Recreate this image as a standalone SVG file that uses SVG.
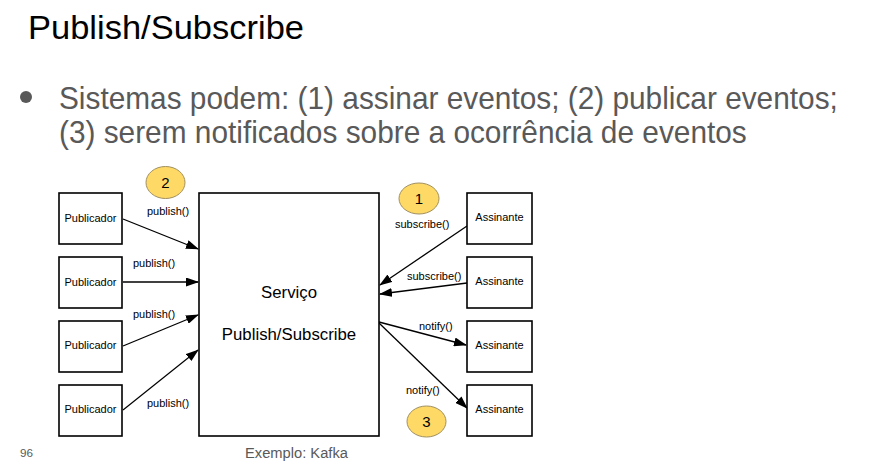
<svg xmlns="http://www.w3.org/2000/svg" width="871" height="465" viewBox="0 0 871 465">
<style>
.box{fill:#fff;stroke:#000;stroke-width:1.6}
.lbl{font-family:"Liberation Sans",Arial,sans-serif;font-size:11px;fill:#000}
.big{font-family:"Liberation Sans",Arial,sans-serif;font-size:16.8px;fill:#000}
.cn{font-family:"Liberation Sans",Arial,sans-serif;font-size:15px;fill:#000}
.gray{font-family:"Liberation Sans",Arial,sans-serif;fill:#595959}
.badge{fill:#ffd966;stroke:#a09060;stroke-width:1}
.conn{stroke:#000;stroke-width:1.3;fill:none;marker-end:url(#ah)}
</style>
<defs>
<marker id="ah" markerWidth="13" markerHeight="9" refX="12" refY="4.5" orient="auto" markerUnits="userSpaceOnUse">
<path d="M0,0 L13,4.5 L0,9 Z" fill="#000"/>
</marker>
</defs>
<rect width="871" height="465" fill="#fff"/>
<text x="28" y="38.5" font-family="'Liberation Sans',Arial,sans-serif" font-size="32.5" fill="#000" textLength="276" lengthAdjust="spacingAndGlyphs">Publish/Subscribe</text>
<circle cx="26" cy="97" r="6" fill="#595959"/>
<g transform="scale(0.932,1)">
<text class="gray" x="63.3" y="109" font-size="32">Sistemas podem: (1) assinar eventos; (2) publicar eventos;</text>
<text class="gray" x="63.3" y="143" font-size="32">(3) serem notificados sobre a ocorrência de eventos</text>
</g>

<g id="connectors">
<line class="conn" x1="123" y1="219" x2="198" y2="249"/>
<line class="conn" x1="123" y1="282" x2="198" y2="282"/>
<line class="conn" x1="123" y1="346" x2="198" y2="315"/>
<line class="conn" x1="123" y1="410" x2="198" y2="350"/>
<line class="conn" x1="467" y1="226" x2="380" y2="285"/>
<line class="conn" x1="467" y1="283" x2="380" y2="294"/>
<line class="conn" x1="379" y1="322" x2="466" y2="345"/>
<line class="conn" x1="379" y1="323" x2="467" y2="408"/>
<text class="lbl" x="147" y="215">publish()</text>
<text class="lbl" x="133" y="267">publish()</text>
<text class="lbl" x="133" y="318">publish()</text>
<text class="lbl" x="147" y="407">publish()</text>
<text class="lbl" x="395" y="228">subscribe()</text>
<text class="lbl" x="407" y="280">subscribe()</text>
<text class="lbl" x="419" y="330">notify()</text>
<text class="lbl" x="406" y="394">notify()</text>
</g>

<g id="pub1"><rect class="box" x="59" y="193" width="63" height="51"/><text class="lbl" x="90.5" y="222" text-anchor="middle">Publicador</text></g>
<g id="pub2"><rect class="box" x="59" y="257" width="63" height="51"/><text class="lbl" x="90.5" y="286" text-anchor="middle">Publicador</text></g>
<g id="pub3"><rect class="box" x="59" y="321" width="63" height="51"/><text class="lbl" x="90.5" y="349" text-anchor="middle">Publicador</text></g>
<g id="pub4"><rect class="box" x="59" y="385" width="63" height="51"/><text class="lbl" x="90.5" y="413" text-anchor="middle">Publicador</text></g>

<g id="servico"><rect class="box" x="199" y="193" width="180" height="243"/>
<text class="big" x="289" y="298" text-anchor="middle">Serviço</text>
<text class="big" x="289" y="340" text-anchor="middle">Publish/Subscribe</text></g>

<g id="ass1"><rect class="box" x="467" y="193" width="65" height="51"/><text class="lbl" x="499.5" y="221" text-anchor="middle">Assinante</text></g>
<g id="ass2"><rect class="box" x="467" y="257" width="65" height="51"/><text class="lbl" x="499.5" y="285" text-anchor="middle">Assinante</text></g>
<g id="ass3"><rect class="box" x="467" y="321" width="65" height="51"/><text class="lbl" x="499.5" y="349" text-anchor="middle">Assinante</text></g>
<g id="ass4"><rect class="box" x="467" y="385" width="65" height="51"/><text class="lbl" x="499.5" y="413" text-anchor="middle">Assinante</text></g>

<g id="badge2"><ellipse class="badge" cx="165.5" cy="182.5" rx="19.5" ry="16"/><text class="cn" x="165.5" y="188" text-anchor="middle">2</text></g>
<g id="badge1"><ellipse class="badge" cx="419" cy="198.5" rx="20" ry="15.5"/><text class="cn" x="419" y="204" text-anchor="middle">1</text></g>
<g id="badge3"><ellipse class="badge" cx="426.5" cy="421.5" rx="19.5" ry="15.5"/><text class="cn" x="426.5" y="427" text-anchor="middle">3</text></g>

<text class="gray" x="296.5" y="458" font-size="14.7" text-anchor="middle">Exemplo: Kafka</text>
<text class="gray" x="20" y="457" font-size="11.7">96</text>
</svg>
